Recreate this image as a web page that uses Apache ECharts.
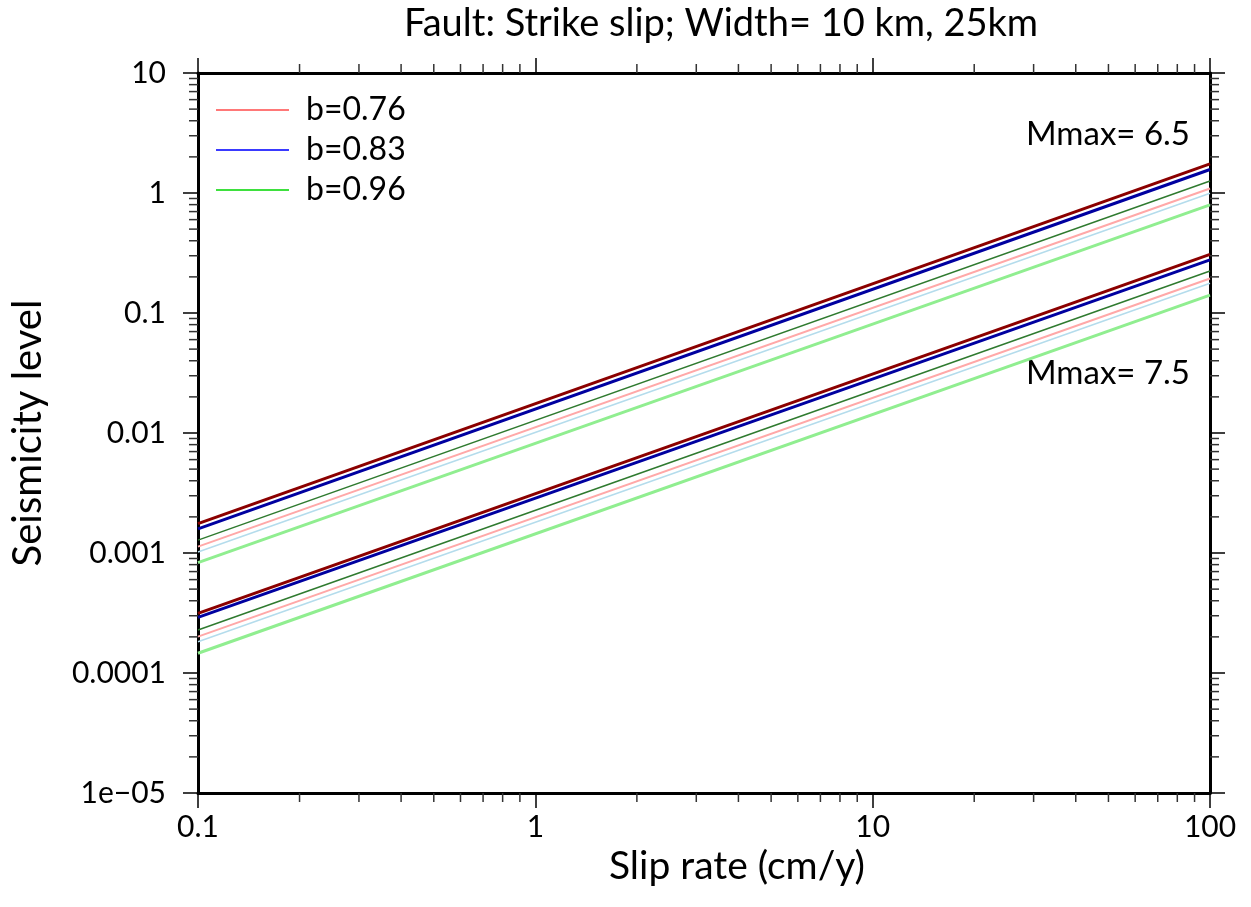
<!DOCTYPE html>
<html>
<head>
<meta charset="utf-8">
<script src="https://cdn.jsdelivr.net/npm/echarts@6/dist/echarts.min.js"></script>
<style>
  html, body { margin: 0; padding: 0; background: #fff; }
  #chart { width: 1251px; height: 907px; }
</style>
</head>
<body>
<div id="chart"></div>
<script>
// Slip rate (cm/y) at the two ends of each line
const slipRate = [0.1, 100];

// Mmax = 6.5 family
const m65DarkRed   = [0.00176, 1.75];
const m65DarkBlue  = [0.00159, 1.57];
const m65DarkGreen = [0.00128, 1.26];
const m65Pink      = [0.00113, 1.09];
const m65LightBlue = [0.00102, 0.995];
const m65LightGrn  = [0.00083, 0.795];

// Mmax = 7.5 family
const m75DarkRed   = [0.000314, 0.308];
const m75DarkBlue  = [0.000291, 0.277];
const m75DarkGreen = [0.000228, 0.224];
const m75Pink      = [0.000201, 0.194];
const m75LightBlue = [0.000182, 0.177];
const m75LightGrn  = [0.000146, 0.141];

// Legend entries
const legendNames = ['b=0.76', 'b=0.83', 'b=0.96'];

// Tick labels
const xTickLabels = { '0.1': '0.1', '1': '1', '10': '10', '100': '100' };
const yTickLabels = { '10': '10', '1': '1', '0.1': '0.1', '0.01': '0.01', '0.001': '0.001', '0.0001': '0.0001', '0.00001': '1e\u221205' };

const FONT = 'Lato';
const X_MIN = 0.1, X_MAX = 100, Y_MIN = 1e-5, Y_MAX = 10;

// line styles for the six curves of each family
const styles = [
  { color: '#8b0000', width: 3 },
  { color: '#0000a0', width: 3 },
  { color: '#2f7a2f', width: 1.5 },
  { color: '#ffa8a8', width: 2 },
  { color: '#b4dcec', width: 1.5 },
  { color: '#90ee90', width: 3 }
];
const families = [
  [m65DarkRed, m65DarkBlue, m65DarkGreen, m65Pink, m65LightBlue, m65LightGrn],
  [m75DarkRed, m75DarkBlue, m75DarkGreen, m75Pink, m75LightBlue, m75LightGrn]
];

const series = [];
families.forEach(function (fam) {
  fam.forEach(function (vals, i) {
    series.push({
      type: 'line',
      data: slipRate.map(function (x, k) { return [x, vals[k]]; }),
      showSymbol: false,
      silent: true,
      lineStyle: { color: styles[i].color, width: styles[i].width },
      z: 3
    });
  });
});

// legend-only entries
const legendColors = ['#ff7878', '#3a3aff', '#3ee03e'];
legendNames.forEach(function (n, i) {
  series.push({ type: 'line', name: n, data: [], color: legendColors[i], lineStyle: { width: 1.5 } });
});

// minor ticks (2..9 within each decade) drawn against the axis scales
function minorValues(lo, hi) {
  const out = [];
  for (let d = lo; d < hi * 0.999; d *= 10) {
    for (let m = 2; m <= 9; m++) out.push(d * m);
  }
  return out;
}
const xMinor = minorValues(X_MIN, X_MAX);
const yMinor = minorValues(Y_MIN, Y_MAX);
const MINOR_LEN = 9;

series.push({
  type: 'custom',
  silent: true,
  clip: false,
  z: 5,
  data: xMinor.map(function (v) { return [v, Y_MIN]; }).concat(yMinor.map(function (v) { return [X_MIN, v]; })),
  renderItem: function (params, api) {
    const isX = params.dataIndex < xMinor.length;
    const v = isX ? xMinor[params.dataIndex] : yMinor[params.dataIndex - xMinor.length];
    const style = { stroke: '#333', lineWidth: 1.5 };
    if (isX) {
      const b = api.coord([v, Y_MIN]);
      const t = api.coord([v, Y_MAX]);
      return { type: 'group', children: [
        { type: 'line', shape: { x1: b[0], y1: b[1], x2: b[0], y2: b[1] + MINOR_LEN }, style: style },
        { type: 'line', shape: { x1: t[0], y1: t[1], x2: t[0], y2: t[1] - MINOR_LEN }, style: style }
      ] };
    }
    const l = api.coord([X_MIN, v]);
    const r = api.coord([X_MAX, v]);
    return { type: 'group', children: [
      { type: 'line', shape: { x1: l[0], y1: l[1], x2: l[0] - MINOR_LEN, y2: l[1] }, style: style },
      { type: 'line', shape: { x1: r[0], y1: r[1], x2: r[0] + MINOR_LEN, y2: r[1] }, style: style }
    ] };
  }
});

function fmt(map) {
  return function (v) {
    const key = String(+v.toPrecision(6));
    return map[key] !== undefined ? map[key] : '';
  };
}

const axisLine = { show: true, lineStyle: { color: '#000', width: 3 } };
const axisTick = { show: true, length: 15, lineStyle: { color: '#000', width: 1.5 } };

const chart = echarts.init(document.getElementById('chart'));
chart.setOption({
  animation: false,
  backgroundColor: '#fff',
  title: {
    text: 'Fault: Strike slip; Width= 10 km, 25km',
    left: 716, top: 0, textAlign: 'center',
    textStyle: { fontFamily: FONT, fontSize: 38, fontWeight: 'normal', color: '#000' }
  },
  legend: {
    orient: 'vertical',
    left: 211, top: 89,
    icon: 'rect',
    itemWidth: 73, itemHeight: 2,
    itemGap: 8,
    textStyle: { fontFamily: FONT, fontSize: 32, color: '#000', padding: [0, 0, 0, 12] },
    data: legendNames
  },
  grid: { left: 198, right: 41, top: 73, bottom: 114 },
  xAxis: [{
    type: 'log', logBase: 10, min: X_MIN, max: X_MAX,
    name: 'Slip rate (cm/y)', nameLocation: 'middle', nameGap: 46,
    nameTextStyle: { fontFamily: FONT, fontSize: 39, color: '#000', padding: [0, 0, 0, 66] },
    axisLine: axisLine, axisTick: axisTick,
    axisLabel: { fontFamily: FONT, fontSize: 30, color: '#000', margin: 19, formatter: fmt(xTickLabels) },
    splitLine: { show: false }
  }, {
    type: 'log', logBase: 10, min: X_MIN, max: X_MAX, position: 'top',
    axisLine: axisLine, axisTick: axisTick, axisLabel: { show: false }, splitLine: { show: false }
  }],
  yAxis: [{
    type: 'log', logBase: 10, min: Y_MIN, max: Y_MAX,
    name: 'Seismicity level', nameLocation: 'middle', nameGap: 150, nameRotate: 90,
    nameTextStyle: { fontFamily: FONT, fontSize: 40, color: '#000' },
    axisLine: axisLine, axisTick: axisTick,
    axisLabel: { fontFamily: FONT, fontSize: 30, color: '#000', margin: 32, formatter: fmt(yTickLabels) },
    splitLine: { show: false }
  }, {
    type: 'log', logBase: 10, min: Y_MIN, max: Y_MAX, position: 'right',
    axisLine: axisLine, axisTick: axisTick, axisLabel: { show: false }, splitLine: { show: false }
  }],
  graphic: [
    { type: 'text', right: 61, top: 118, style: { text: 'Mmax= 6.5', fontFamily: FONT, fontSize: 33, fill: '#000' } },
    { type: 'text', right: 61, top: 357, style: { text: 'Mmax= 7.5', fontFamily: FONT, fontSize: 33, fill: '#000' } }
  ],
  series: series
});
</script>
</body>
</html>
